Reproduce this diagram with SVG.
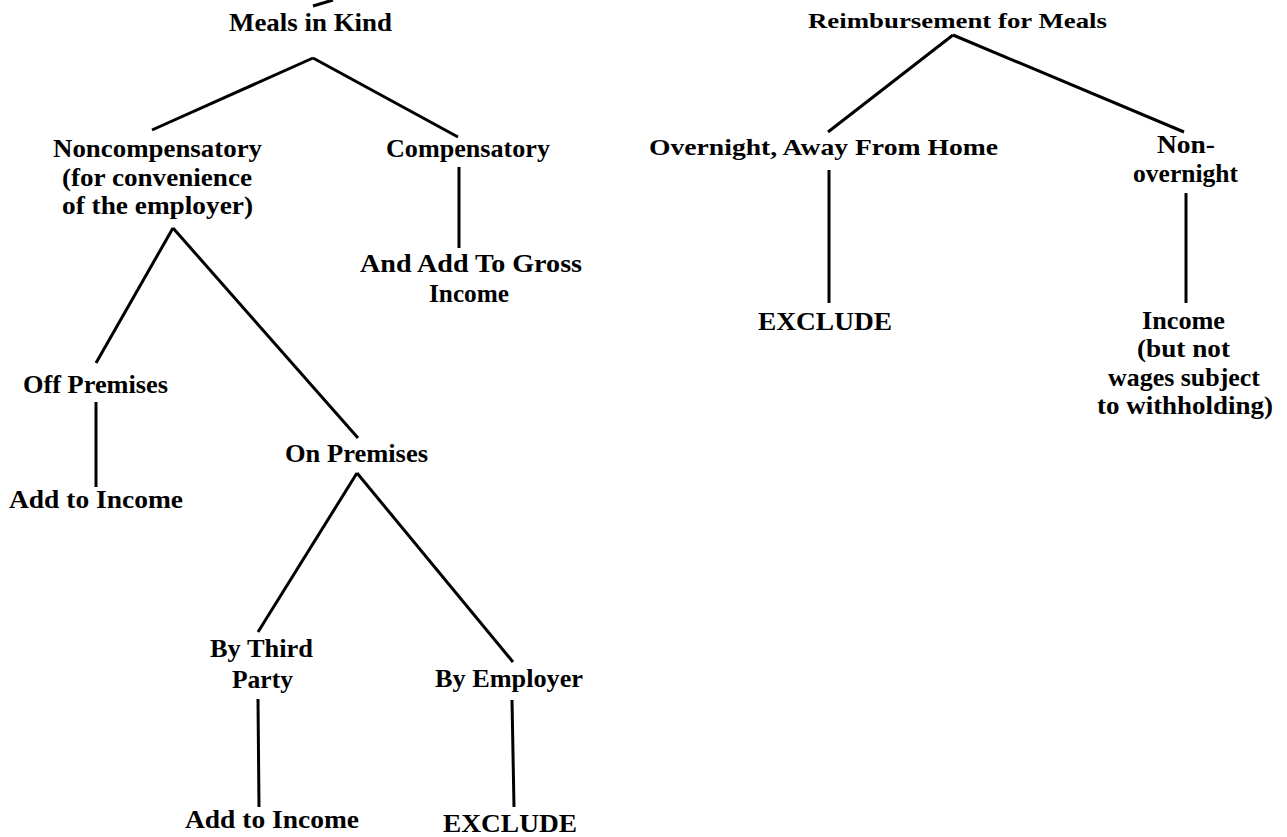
<svg xmlns="http://www.w3.org/2000/svg" width="1287" height="837" viewBox="0 0 1287 837">
<style>
  text { font-family: "Liberation Serif", "Times New Roman", serif; font-weight: bold; fill: #000; }
  .l { font-size: 26px; }
  .m { font-size: 25px; }
  .c { stroke: #000; stroke-width: 3; fill: none; stroke-linecap: butt; }
</style>
<rect width="1287" height="837" fill="#fff"/>
<g id="connectors">
  <line class="c" x1="313" y1="6" x2="333" y2="0"/>
  <line class="c" x1="313" y1="58" x2="152" y2="130"/>
  <line class="c" x1="313" y1="58" x2="458" y2="137"/>
  <line class="c" x1="459" y1="167" x2="459" y2="248"/>
  <line class="c" x1="173" y1="228" x2="96" y2="363"/>
  <line class="c" x1="173" y1="228" x2="358" y2="438"/>
  <line class="c" x1="96" y1="402" x2="96" y2="487"/>
  <line class="c" x1="357" y1="473" x2="258" y2="632"/>
  <line class="c" x1="357" y1="473" x2="513" y2="662"/>
  <line class="c" x1="258" y1="699" x2="259" y2="807"/>
  <line class="c" x1="512" y1="700" x2="514" y2="807"/>
  <line class="c" x1="953" y1="35" x2="828" y2="132"/>
  <line class="c" x1="953" y1="35" x2="1184" y2="132"/>
  <line class="c" x1="829" y1="170" x2="829" y2="303"/>
  <line class="c" x1="1186" y1="193" x2="1186" y2="303"/>
</g>
<g id="meals-in-kind"><text class="l" x="229" y="31" textLength="163" lengthAdjust="spacingAndGlyphs">Meals in Kind</text></g>
<g id="noncompensatory">
  <text class="l" x="53" y="157" textLength="209" lengthAdjust="spacingAndGlyphs">Noncompensatory</text>
  <text class="m" x="62" y="185.5" textLength="190" lengthAdjust="spacingAndGlyphs">(for convenience</text>
  <text class="m" x="62" y="213.5" textLength="191" lengthAdjust="spacingAndGlyphs">of the employer)</text>
</g>
<g id="compensatory"><text class="m" x="386" y="157" textLength="164" lengthAdjust="spacingAndGlyphs">Compensatory</text></g>
<g id="add-gross">
  <text class="l" x="360" y="272" textLength="222" lengthAdjust="spacingAndGlyphs">And Add To Gross</text>
  <text class="l" x="429" y="302" textLength="80" lengthAdjust="spacingAndGlyphs">Income</text>
</g>
<g id="off-premises"><text class="l" x="23" y="393" textLength="145" lengthAdjust="spacingAndGlyphs">Off Premises</text></g>
<g id="add-income-1"><text class="l" x="9" y="508" textLength="174" lengthAdjust="spacingAndGlyphs">Add to Income</text></g>
<g id="on-premises"><text class="l" x="285" y="462" textLength="143" lengthAdjust="spacingAndGlyphs">On Premises</text></g>
<g id="third-party">
  <text class="l" x="210" y="657" textLength="103" lengthAdjust="spacingAndGlyphs">By Third</text>
  <text class="l" x="232" y="688" textLength="61" lengthAdjust="spacingAndGlyphs">Party</text>
</g>
<g id="by-employer"><text class="l" x="435" y="687" textLength="148" lengthAdjust="spacingAndGlyphs">By Employer</text></g>
<g id="add-income-2"><text class="l" x="185" y="828" textLength="174" lengthAdjust="spacingAndGlyphs">Add to Income</text></g>
<g id="exclude-1"><text class="m" x="443" y="832" textLength="134" lengthAdjust="spacingAndGlyphs">EXCLUDE</text></g>
<g id="reimbursement"><text style="font-size:22px" x="808" y="28" textLength="299" lengthAdjust="spacingAndGlyphs">Reimbursement for Meals</text></g>
<g id="overnight"><text style="font-size:24px" x="649" y="155" textLength="349" lengthAdjust="spacingAndGlyphs">Overnight, Away From Home</text></g>
<g id="non-overnight">
  <text class="m" x="1157" y="153" textLength="58" lengthAdjust="spacingAndGlyphs">Non-</text>
  <text class="m" x="1133" y="182" textLength="105" lengthAdjust="spacingAndGlyphs">overnight</text>
</g>
<g id="exclude-2"><text class="l" x="758" y="330" textLength="134" lengthAdjust="spacingAndGlyphs">EXCLUDE</text></g>
<g id="income-not-wages">
  <text class="m" x="1142" y="329" textLength="83" lengthAdjust="spacingAndGlyphs">Income</text>
  <text class="m" x="1137" y="357" textLength="93" lengthAdjust="spacingAndGlyphs">(but not</text>
  <text class="m" x="1108" y="386" textLength="152" lengthAdjust="spacingAndGlyphs">wages subject</text>
  <text class="m" x="1097" y="414" textLength="176" lengthAdjust="spacingAndGlyphs">to withholding)</text>
</g>
</svg>
